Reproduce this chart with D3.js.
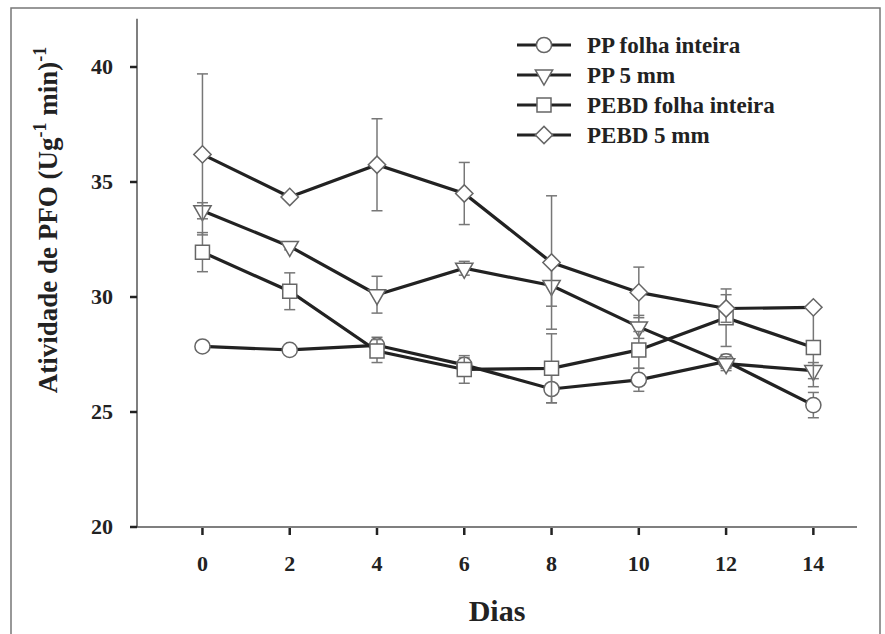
<!DOCTYPE html>
<html>
<head>
	<title></title>
	<meta charset="utf-8">
	<script src="https://d3js.org/d3.v7.min.js"></script>
<style>
  body { margin: 0; background: #fff; }
  text { font-family: "Liberation Serif", "Times New Roman", serif; font-weight: bold; fill: #222; }
</style>
</head>
<body>
  <div id="my_dataviz"></div>
<script>

// data
var days = [0, 2, 4, 6, 8, 10, 12, 14];
var seriesNames = ["PP folha inteira", "PP 5 mm", "PEBD folha inteira", "PEBD 5 mm"];
var ppInteira = [27.85, 27.7, 27.9, 27.05, 26.0, 26.4, 27.2, 25.3];
var ppInteiraErr = [0.1, 0.1, 0.35, 0.3, 0.6, 0.5, 0.3, 0.55];
var pp5mm = [33.75, 32.2, 30.1, 31.25, 30.5, 28.7, 27.1, 26.8];
var pp5mmErr = [0.35, 0.15, 0.8, 0.3, 0.9, 0.5, 0.3, 0.35];
var pebdInteira = [31.95, 30.25, 27.65, 26.85, 26.9, 27.7, 29.1, 27.8];
var pebdInteiraErr = [0.85, 0.8, 0.5, 0.6, 1.5, 0.8, 1.25, 1.7];
var pebd5mm = [36.2, 34.35, 35.75, 34.5, 31.5, 30.2, 29.5, 29.55];
var pebd5mmErr = [3.5, 0.1, 2.0, 1.35, 2.9, 1.1, 0.6, 0.1];
var yTicks = [20, 25, 30, 35, 40];
var xTicks = [0, 2, 4, 6, 8, 10, 12, 14];

var series = [
  {name: seriesNames[0], values: ppInteira, err: ppInteiraErr, shape: "circle"},
  {name: seriesNames[1], values: pp5mm, err: pp5mmErr, shape: "triangle"},
  {name: seriesNames[2], values: pebdInteira, err: pebdInteiraErr, shape: "square"},
  {name: seriesNames[3], values: pebd5mm, err: pebd5mmErr, shape: "diamond"}
];

var W = 885, H = 634;

var svg = d3.select("#my_dataviz")
  .append("svg")
    .attr("width", W)
    .attr("height", H);

// outer frame
svg.append("rect")
  .attr("x", 11).attr("y", 8)
  .attr("width", 869).attr("height", 640)
  .attr("fill", "none")
  .attr("stroke", "#777")
  .attr("stroke-width", 1.5);

var x = d3.scaleLinear()
  .domain([-1.5, 15])
  .range([137, 857]);

var y = d3.scaleLinear()
  .domain([20, 40])
  .range([527, 67]);

var yTop = y(42.1);

// axes lines
svg.append("line")
  .attr("x1", x(-1.5)).attr("x2", x(15))
  .attr("y1", y(20)).attr("y2", y(20))
  .attr("stroke", "#555").attr("stroke-width", 1.5);
svg.append("line")
  .attr("x1", x(-1.5)).attr("x2", x(-1.5))
  .attr("y1", y(20)).attr("y2", yTop)
  .attr("stroke", "#555").attr("stroke-width", 1.5);

// y ticks
svg.selectAll(".ytick")
  .data(yTicks)
  .enter().append("line")
    .attr("x1", x(-1.5) - 7).attr("x2", x(-1.5))
    .attr("y1", function(d) { return y(d); })
    .attr("y2", function(d) { return y(d); })
    .attr("stroke", "#222").attr("stroke-width", 2.5);
svg.selectAll(".ylab")
  .data(yTicks)
  .enter().append("text")
    .attr("x", 113)
    .attr("y", function(d) { return y(d) + 7; })
    .attr("text-anchor", "end")
    .style("font-size", "22px")
    .text(function(d) { return d; });

// x ticks
svg.selectAll(".xtick")
  .data(xTicks)
  .enter().append("line")
    .attr("x1", function(d) { return x(d); })
    .attr("x2", function(d) { return x(d); })
    .attr("y1", y(20) + 1).attr("y2", y(20) + 8)
    .attr("stroke", "#222").attr("stroke-width", 2.5);
svg.selectAll(".xlab")
  .data(xTicks)
  .enter().append("text")
    .attr("x", function(d) { return x(d); })
    .attr("y", 571)
    .attr("text-anchor", "middle")
    .style("font-size", "22px")
    .text(function(d) { return d; });

// axis titles
svg.append("text")
  .attr("x", 497).attr("y", 621)
  .attr("text-anchor", "middle")
  .style("font-size", "30px")
  .text("Dias");

var ylab = svg.append("text")
  .attr("transform", "translate(57,220) rotate(-90)")
  .attr("text-anchor", "middle")
  .style("font-size", "27px");
ylab.append("tspan").text("Atividade de PFO (Ug");
ylab.append("tspan").attr("dy", -11).style("font-size", "18px").text("-1");
ylab.append("tspan").attr("dy", 11).text(" min)");
ylab.append("tspan").attr("dy", -11).style("font-size", "18px").text("-1");

function symbolPath(shape) {
  if (shape == "circle") return d3.symbol().type(d3.symbolCircle).size(180)();
  if (shape == "square") return d3.symbol().type(d3.symbolSquare).size(196)();
  if (shape == "diamond") return d3.symbol().type(d3.symbolSquare).size(150)();
  return d3.symbol().type(d3.symbolTriangle).size(130)();
}
function symbolRot(shape) {
  if (shape == "diamond") return 45;
  if (shape == "triangle") return 180;
  return 0;
}

var line = d3.line()
  .x(function(d) { return x(d.day); })
  .y(function(d) { return y(d.v); });

series.forEach(function(s) {
  var pts = days.map(function(d, i) { return {day: d, v: s.values[i], e: s.err[i]}; });
  var g = svg.append("g");

  // error bars
  var eb = g.selectAll(".err")
    .data(pts)
    .enter().append("g");
  eb.append("line")
    .attr("x1", function(d) { return x(d.day); })
    .attr("x2", function(d) { return x(d.day); })
    .attr("y1", function(d) { return y(d.v - d.e); })
    .attr("y2", function(d) { return y(d.v + d.e); })
    .attr("stroke", "#777").attr("stroke-width", 1.5);
  [-1, 1].forEach(function(sg) {
    eb.append("line")
      .attr("x1", function(d) { return x(d.day) - 5.5; })
      .attr("x2", function(d) { return x(d.day) + 5.5; })
      .attr("y1", function(d) { return y(d.v + sg * d.e); })
      .attr("y2", function(d) { return y(d.v + sg * d.e); })
      .attr("stroke", "#777").attr("stroke-width", 1.5);
  });

  g.append("path")
    .datum(pts)
    .attr("d", line)
    .attr("fill", "none")
    .attr("stroke", "#222")
    .attr("stroke-width", 3.2);

  g.selectAll(".pt")
    .data(pts)
    .enter().append("path")
      .attr("d", symbolPath(s.shape))
      .attr("transform", function(d) {
        return "translate(" + x(d.day) + "," + y(d.v) + ") rotate(" + symbolRot(s.shape) + ")";
      })
      .attr("fill", "#fff")
      .attr("stroke", "#666")
      .attr("stroke-width", 1.5);
});

// legend
var legend = svg.selectAll(".leg")
  .data(series)
  .enter().append("g")
    .attr("transform", function(d, i) { return "translate(517," + (45 + i * 30) + ")"; });
legend.append("line")
  .attr("x1", 0).attr("x2", 54)
  .attr("stroke", "#222").attr("stroke-width", 3.2);
legend.append("path")
  .attr("d", function(d) { return symbolPath(d.shape); })
  .attr("transform", function(d) { return "translate(27,0) rotate(" + symbolRot(d.shape) + ")"; })
  .attr("fill", "#fff")
  .attr("stroke", "#666")
  .attr("stroke-width", 1.5);
legend.append("text")
  .attr("x", 70).attr("y", 8)
  .style("font-size", "23px")
  .text(function(d) { return d.name; });

</script>
</body>
</html>
